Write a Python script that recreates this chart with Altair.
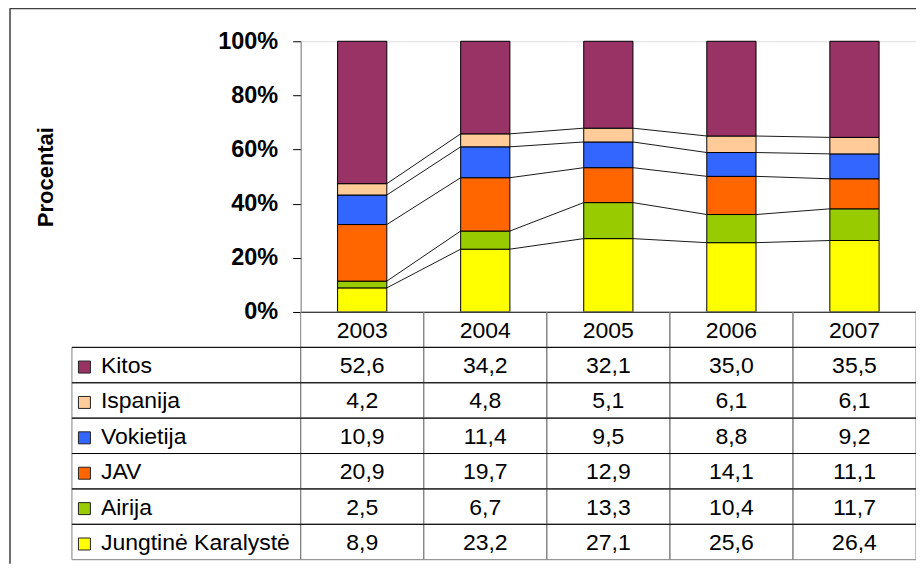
import altair as alt
import pandas as pd

years = ["2003", "2004", "2005", "2006", "2007"]
# series from bottom of stack to top
series = ["Jungtinė Karalystė", "Airija", "JAV", "Vokietija", "Ispanija", "Kitos"]
colors = ["#FFFF00", "#99CC00", "#FF6600", "#3366FF", "#FFCC99", "#993366"]
jungtine = [8.9, 23.2, 27.1, 25.6, 26.4]
airija = [2.5, 6.7, 13.3, 10.4, 11.7]
jav = [20.9, 19.7, 12.9, 14.1, 11.1]
vokietija = [10.9, 11.4, 9.5, 8.8, 9.2]
ispanija = [4.2, 4.8, 5.1, 6.1, 6.1]
kitos = [52.6, 34.2, 32.1, 35.0, 35.5]
values = [jungtine, airija, jav, vokietija, ispanija, kitos]

FONT = "Liberation Sans"
W, H = 616, 271
HALF = 0.2  # half bar width in category units

# ---- stacked bars ----
bar_rows = []
tops = {}
for i, y in enumerate(years):
    cum = 0.0
    for s, vals in zip(series, values):
        lo, hi = cum, cum + vals[i]
        cum = hi
        tops.setdefault(s, []).append(hi)
        bar_rows.append(dict(year=y, series=s, lo=lo, hi=hi, x0=i - HALF, x1=i + HALF))
bars_df = pd.DataFrame(bar_rows)

line_rows = []
for s in series[:-1]:
    for i in range(len(years) - 1):
        line_rows.append(dict(series=s, x0=i + HALF, x1=i + 1 - HALF,
                              y0=tops[s][i], y1=tops[s][i + 1]))
lines_df = pd.DataFrame(line_rows)

xq = alt.Scale(domain=[-0.5, 4.5], nice=False, zero=False)
yq = alt.Scale(domain=[0, 100], nice=False, zero=True)
color_scale = alt.Scale(domain=series, range=colors)

bars = alt.Chart(bars_df).mark_rect(stroke="black", strokeWidth=1).encode(
    x=alt.X("x0:Q", scale=xq, axis=alt.Axis(labels=False, ticks=False, title=None,
                                             grid=False, domainColor="black", domainWidth=1)),
    x2="x1:Q",
    y=alt.Y("lo:Q", scale=yq, axis=alt.Axis(
        values=[0, 20, 40, 60, 80, 100], labelExpr="datum.value + '%'", grid=False,
        domainColor="#808080", tickColor="black", tickSize=8, labelPadding=15,
        labelFont=FONT, labelFontSize=23.5, labelFontWeight="bold", labelColor="black",
        title="Procentai", titleFont=FONT, titleFontSize=22, titleFontWeight="bold",
        titleColor="black", titleAngle=270, titleX=-248, titleY=135.5,
        titleAlign="center", titleBaseline="alphabetic")),
    y2="hi:Q",
    fill=alt.Fill("series:N", scale=color_scale, legend=None),
)

lines = alt.Chart(lines_df).mark_rule(color="black", strokeWidth=0.9).encode(
    x=alt.X("x0:Q", scale=xq, axis=None),
    x2="x1:Q",
    y=alt.Y("y0:Q", scale=yq, axis=None),
    y2="y1:Q",
)

# ---- data table ----
table_rows_order = ["header"] + series[::-1]
cell_rows = []
for y in years:
    cell_rows.append(dict(row="header", year=y, text=y))
for s, vals in zip(series, values):
    for y, v in zip(years, vals):
        cell_rows.append(dict(row=s, year=y, text=f"{v:.1f}".replace(".", ",")))
cells_df = pd.DataFrame(cell_rows)
label_df = pd.DataFrame(dict(row=series, series=series))

xt = alt.Scale(type="band", domain=years, paddingInner=0, paddingOuter=0)
yt = alt.Scale(type="band", domain=table_rows_order, range=[H, 519], paddingInner=0, paddingOuter=0)

cells = alt.Chart(cells_df).mark_rect(fillOpacity=0, stroke="#808080", strokeWidth=1).encode(
    x=alt.X("year:O", scale=xt, axis=None),
    y=alt.Y("row:N", scale=yt, axis=None),
)
cell_text = alt.Chart(cells_df).mark_text(font=FONT, fontSize=23, color="black",
                                          align="center", baseline="middle", dy=1).encode(
    x=alt.X("year:O", scale=xt, axis=None, bandPosition=0.5),
    y=alt.Y("row:N", scale=yt, axis=None, bandPosition=0.5),
    text="text:N",
)
label_cells = alt.Chart(label_df).mark_rect(fillOpacity=0, stroke="#808080", strokeWidth=1).encode(
    x=alt.value(-229), x2=alt.value(0),
    y=alt.Y("row:N", scale=yt, axis=None),
)
row_lines = alt.Chart(label_df).mark_rule(color="black", strokeWidth=1).encode(
    x=alt.value(-229), x2=alt.value(W),
    y=alt.Y("row:N", scale=yt, axis=None, bandPosition=0),
)
label_text = alt.Chart(label_df).mark_text(font=FONT, fontSize=23, color="black",
                                           align="left", baseline="middle", dy=1).encode(
    x=alt.value(-200),
    y=alt.Y("row:N", scale=yt, axis=None, bandPosition=0.5),
    text="series:N",
)
swatches = alt.Chart(label_df).mark_square(size=144, stroke="#222222", strokeWidth=1,
                                           opacity=1, yOffset=2).encode(
    x=alt.value(-216.5),
    y=alt.Y("row:N", scale=yt, axis=None, bandPosition=0.5),
    fill=alt.Fill("series:N", scale=color_scale, legend=None),
)

# ---- outer frame ----
frame_df = pd.DataFrame({"k": [0]})
frame_top = alt.Chart(frame_df).mark_rule(color="#404040", strokeWidth=2).encode(
    x=alt.value(-291), x2=alt.value(616), y=alt.value(-33))
frame_left = alt.Chart(frame_df).mark_rule(color="#404040", strokeWidth=1.5).encode(
    x=alt.value(-291), y=alt.value(-33), y2=alt.value(523))

chart = alt.layer(
    frame_top, frame_left, lines, bars, cells, label_cells, row_lines,
    cell_text, label_text, swatches,
).resolve_scale(x="independent", y="independent", fill="shared").properties(
    width=W, height=H,
    autosize=alt.AutoSizeParams(type="none"),
    padding={"left": 293, "top": 33, "right": 0, "bottom": 252},
).configure_view(stroke="#a0a0a0", strokeWidth=1).configure(font=FONT, background="white")

chart.save("out.html", embed_options={"renderer": "svg", "actions": False})
